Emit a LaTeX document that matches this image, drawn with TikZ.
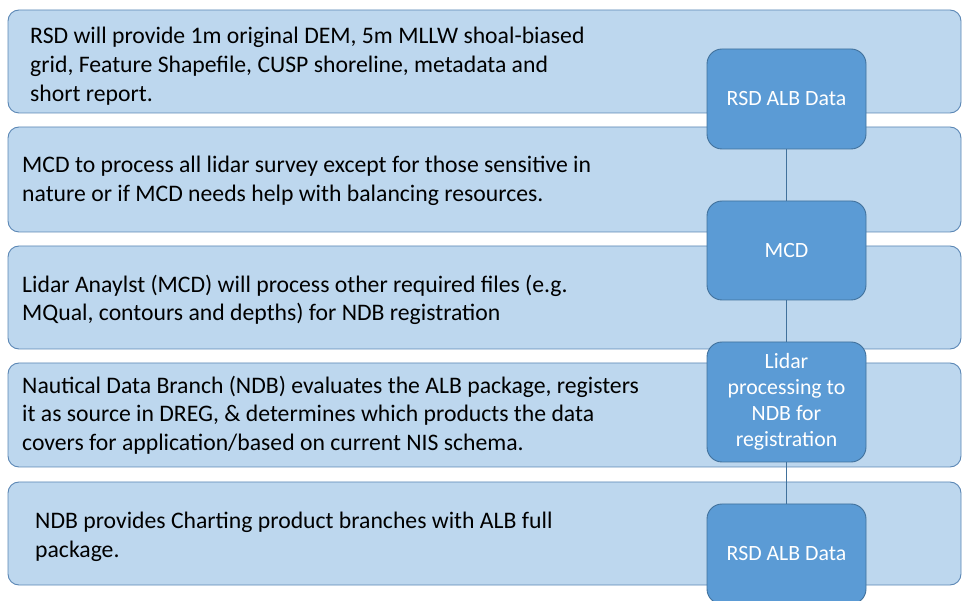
\documentclass[tikz,border=0pt]{standalone}
\usepackage{fontspec}
\setmainfont{Carlito}
\definecolor{panelfill}{HTML}{BDD7EE}
\definecolor{panelline}{HTML}{5B87B5}
\definecolor{stepfill}{HTML}{5B9BD5}
\definecolor{stepline}{HTML}{41719C}
\tikzset{
  panel/.style={draw=panelline, fill=panelfill, line width=0.9pt, rounded corners=11pt},
  stepbox/.style={draw=stepline, fill=stepfill, line width=0.9pt, rounded corners=15pt,
    minimum width=159pt, text=white, align=center, inner sep=0pt,
    font=\fontsize{21.8}{26}\selectfont},
  paneltext/.style={anchor=west, align=left, inner sep=0pt, text=black,
    font=\fontsize{23.7}{28.7}\selectfont},
  link/.style={draw=stepline, line width=0.8pt}
}
\begin{document}
\begin{tikzpicture}[x=1pt,y=-1pt]
\useasboundingbox (0,0) rectangle (962,601);
\begin{scope}
\clip (0,0) rectangle (962,601);
% wide description panels
\path[panel] (8,10) rectangle (961,113);
\path[panel] (8,127) rectangle (961,232);
\path[panel] (8,246) rectangle (961,349);
\path[panel] (8,363) rectangle (961,467);
\path[panel] (8,482) rectangle (961,585);

\node[paneltext] (t1) at (30,66) {RSD will provide 1m original DEM, 5m MLLW shoal-biased\\grid, Feature Shapefile, CUSP shoreline, metadata and\\short report.};
\node[paneltext] (t2) at (22,181) {MCD to process all lidar survey except for those sensitive in\\nature or if MCD needs help with balancing resources.};
\node[paneltext] (t3) at (22,300) {Lidar Anaylst (MCD) will process other required files (e.g.\\MQual, contours and depths) for NDB registration};
\node[paneltext] (t4) at (22,415) {Nautical Data Branch (NDB) evaluates the ALB package, registers\\it as source in DREG, \& determines which products the data\\covers for application/based on current NIS schema.};
\node[paneltext] (t5) at (35,537) {NDB provides Charting product branches with ALB full\\package.};

% process steps
\node[stepbox, minimum height=100pt] (s1) at (786.5,99) {RSD ALB Data};
\node[stepbox, minimum height=99pt] (s2) at (786.5,250.5) {MCD};
\node[stepbox, minimum height=120pt] (s3) at (786.5,402) {Lidar\\processing to\\NDB for\\registration};
\node[stepbox, minimum height=100pt] (s4) at (786.5,554) {RSD ALB Data};

\draw[link] (s1) -- (s2);
\draw[link] (s2) -- (s3);
\draw[link] (s3) -- (s4);
\end{scope}
\end{tikzpicture}
\end{document}
